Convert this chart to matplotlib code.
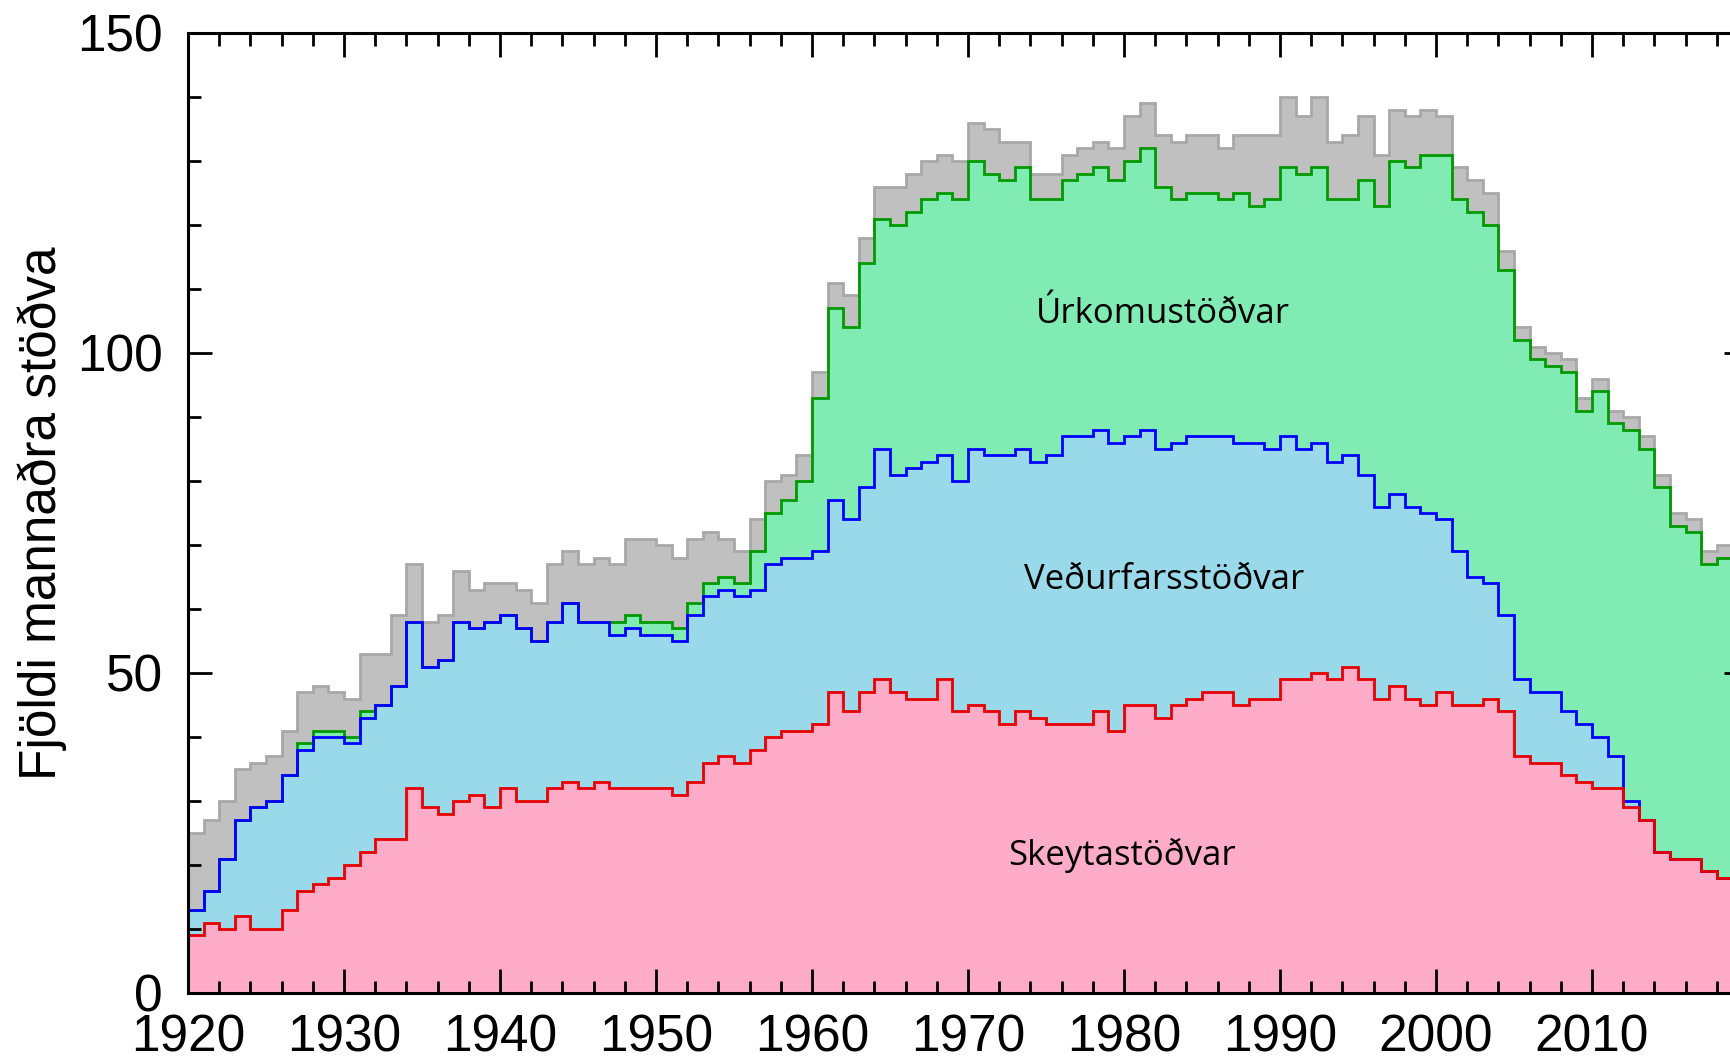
import numpy as np
import matplotlib
matplotlib.use("Agg")
import matplotlib.pyplot as plt
from matplotlib.ticker import MultipleLocator

# ---- data (cumulative level of each layer, one value per year 1920-2018) ----
years = np.arange(1920, 2019)

total = [25, 27, 30, 35, 36, 37, 41, 47, 48, 47,
         46, 53, 53, 59, 67, 58, 59, 66, 63, 64,
         64, 63, 61, 67, 69, 67, 68, 67, 71, 71,
         70, 68, 71, 72, 71, 69, 74, 80, 81, 84,
         97, 111, 109, 118, 126, 126, 128, 130, 131, 130,
         136, 135, 133, 133, 128, 128, 131, 132, 133, 132,
         137, 139, 134, 133, 134, 134, 132, 134, 134, 134,
         140, 137, 140, 133, 134, 137, 131, 138, 137, 138,
         137, 129, 127, 125, 116, 104, 101, 100, 99, 93,
         96, 91, 90, 87, 81, 75, 74, 69, 70]

urkomu = [13, 16, 21, 27, 29, 30, 34, 39, 41, 41,
          40, 44, 45, 48, 58, 51, 52, 58, 57, 58,
          59, 57, 55, 58, 61, 58, 58, 58, 59, 58,
          58, 57, 61, 64, 65, 64, 69, 75, 77, 80,
          93, 107, 104, 114, 121, 120, 122, 124, 125, 124,
          130, 128, 127, 129, 124, 124, 127, 128, 129, 127,
          130, 132, 126, 124, 125, 125, 124, 125, 123, 124,
          129, 128, 129, 124, 124, 127, 123, 130, 129, 131,
          131, 124, 122, 120, 113, 102, 99, 98, 97, 91,
          94, 89, 88, 85, 79, 73, 72, 67, 68]

vedurfars = [13, 16, 21, 27, 29, 30, 34, 38, 40, 40,
             39, 43, 45, 48, 58, 51, 52, 58, 57, 58,
             59, 57, 55, 58, 61, 58, 58, 56, 57, 56,
             56, 55, 59, 62, 63, 62, 63, 67, 68, 68,
             69, 77, 74, 79, 85, 81, 82, 83, 84, 80,
             85, 84, 84, 85, 83, 84, 87, 87, 88, 86,
             87, 88, 85, 86, 87, 87, 87, 86, 86, 85,
             87, 85, 86, 83, 84, 81, 76, 78, 76, 75,
             74, 69, 65, 64, 59, 49, 47, 47, 44, 42,
             40, 37, 30, 27, 22, 21, 21, 19, 18]

skeyta = [9, 11, 10, 12, 10, 10, 13, 16, 17, 18,
          20, 22, 24, 24, 32, 29, 28, 30, 31, 29,
          32, 30, 30, 32, 33, 32, 33, 32, 32, 32,
          32, 31, 33, 36, 37, 36, 38, 40, 41, 41,
          42, 47, 44, 47, 49, 47, 46, 46, 49, 44,
          45, 44, 42, 44, 43, 42, 42, 42, 44, 41,
          45, 45, 43, 45, 46, 47, 47, 45, 46, 46,
          49, 49, 50, 49, 51, 49, 46, 48, 46, 45,
          47, 45, 45, 46, 44, 37, 36, 36, 34, 33,
          32, 32, 29, 27, 22, 21, 21, 19, 18]

layer_names = ["Úrkomustöðvar", "Veðurfarsstöðvar", "Skeytastöðvar"]
ylabel = "Fjöldi mannaðra stöðva"

# ---- figure ----
W, H = 1731, 1061
fig = plt.figure(figsize=(W / 100, H / 100), dpi=100)
ax = fig.add_axes([188 / W, (H - 993) / H, (1748 - 188) / W, (993 - 33) / H])

edges = np.append(years, years[-1] + 1)

fills = [(total, "#c0c0c0"), (urkomu, "#80ecb4"),
         (vedurfars, "#9ad9e9"), (skeyta, "#ffacc8")]
for vals, col in fills:
    ax.stairs(vals, edges, baseline=0, fill=True, color=col, lw=0)

lines = [(total, "#a8a8a8"), (urkomu, "#009a00"),
         (vedurfars, "#0000ff"), (skeyta, "#e60000")]
for vals, col in lines:
    ax.stairs(vals, edges, baseline=None, color=col, lw=2.0)

ax.set_xlim(1920, 2020)
ax.set_ylim(0, 150)

ax.set_xticks(np.arange(1920, 2011, 10))
ax.xaxis.set_minor_locator(MultipleLocator(2))
ax.set_yticks([0, 50, 100, 150])
ax.yaxis.set_minor_locator(MultipleLocator(10))

ax.tick_params(which="both", direction="in", top=True, right=True, width=2, colors="black")
ax.tick_params(which="major", length=17)
ax.tick_params(which="minor", length=9)
ax.tick_params(axis="y", which="major", pad=18)
ax.tick_params(axis="x", which="major", pad=15)
for lab in ax.get_xticklabels() + ax.get_yticklabels():
    lab.set_fontfamily("Liberation Sans")
    lab.set_fontsize(37)

for sp in ax.spines.values():
    sp.set_linewidth(2.2)
    sp.set_zorder(5)

fig.text(42 / W, 1 - 513 / H, ylabel, rotation=90, ha="center", va="center",
         family="Liberation Sans", fontsize=37)

label_font = dict(family="Open Sans", fontsize=25, ha="center", va="center", color="black")
ax.text(1982.5, 106.1, layer_names[0], **label_font)
ax.text(1982.6, 64.6, layer_names[1], **label_font)
ax.text(1979.9, 21.5, layer_names[2], **label_font)

fig.savefig("out.png", dpi=100)
